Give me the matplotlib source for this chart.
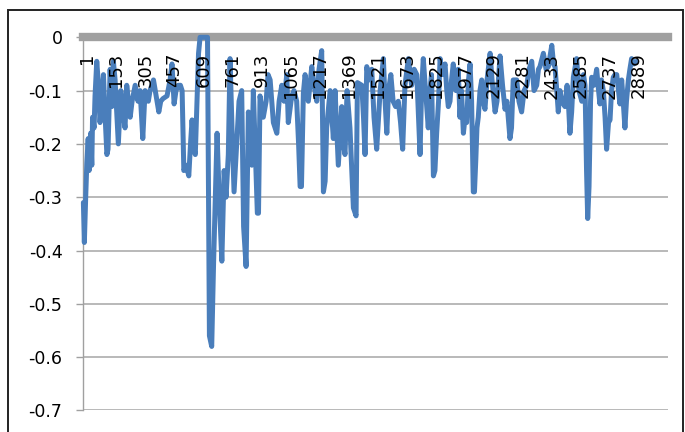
import matplotlib

matplotlib.use("Agg")
import matplotlib.pyplot as plt
import matplotlib.transforms as mtransforms
from matplotlib.patches import Rectangle
import numpy as np

# row number of each reading and the reading itself
obs_index = [
    1, 6, 13, 19, 26, 31, 39, 45, 49, 57, 62, 71, 80, 88, 97, 106, 115, 124, 130, 141,
    150, 158, 167, 184, 197, 209, 219, 228, 246, 256, 272, 287, 298, 312, 324, 341, 350, 368, 382, 396,
    406, 418, 439, 455, 465, 476, 486, 497, 509, 518, 527, 539, 553, 562, 570, 581, 587, 596, 604, 612,
    633, 651, 661, 673, 683, 701, 712, 726, 738, 748, 760, 769, 780, 790, 804, 816, 830, 840, 853, 865,
    874, 883, 891, 900, 912, 918, 926, 943, 958, 968, 979, 996, 1014, 1026, 1040, 1052, 1066, 1074, 1092, 1104,
    1118, 1128, 1136, 1143, 1153, 1162, 1179, 1197, 1209, 1223, 1235, 1249, 1258, 1267, 1275, 1293, 1310, 1319, 1336, 1354,
    1363, 1371, 1382, 1397, 1415, 1429, 1436, 1459, 1468, 1476, 1485, 1497, 1511, 1523, 1537, 1547, 1555, 1572, 1581, 1590,
    1599, 1611, 1623, 1636, 1650, 1662, 1673, 1685, 1703, 1720, 1733, 1747, 1756, 1764, 1772, 1781, 1793, 1807, 1816, 1824,
    1834, 1842, 1851, 1861, 1869, 1882, 1895, 1904, 1912, 1921, 1929, 1938, 1952, 1964, 1973, 1981, 1991, 2000, 2008, 2018,
    2026, 2034, 2043, 2049, 2056, 2062, 2069, 2078, 2087, 2095, 2104, 2115, 2131, 2141, 2157, 2167, 2183, 2196, 2209, 2219,
    2235, 2243, 2252, 2270, 2282, 2296, 2309, 2323, 2335, 2349, 2361, 2375, 2384, 2392, 2410, 2424, 2436, 2445, 2454, 2463,
    2471, 2480, 2488, 2497, 2506, 2523, 2534, 2542, 2549, 2558, 2567, 2584, 2596, 2611, 2620, 2628, 2636, 2642, 2649, 2657,
    2663, 2675, 2689, 2699, 2706, 2714, 2724, 2733, 2741, 2751, 2759, 2767, 2776, 2785, 2794, 2803, 2811, 2820, 2828, 2837,
    2845, 2855, 2863, 2872, 2884, 2899,
]
obs_value = [
    -0.31, -0.385, -0.30, -0.236, -0.19, -0.25, -0.18, -0.24, -0.15, -0.17, -0.11, -0.045, -0.09, -0.16, -0.12, -0.07, -0.15, -0.22, -0.21, -0.06,
    -0.13, -0.045, -0.08, -0.20, -0.10, -0.14, -0.17, -0.09, -0.15, -0.12, -0.09, -0.12, -0.10, -0.19, -0.10, -0.12, -0.10, -0.08, -0.11, -0.14,
    -0.12, -0.115, -0.11, -0.08, -0.05, -0.125, -0.10, -0.09, -0.09, -0.10, -0.25, -0.24, -0.26, -0.20, -0.155, -0.21, -0.22, -0.12, -0.03, 0.0,
    0.0, 0.0, -0.56, -0.58, -0.42, -0.18, -0.30, -0.42, -0.25, -0.30, -0.22, -0.04, -0.18, -0.29, -0.20, -0.12, -0.10, -0.355, -0.43, -0.14,
    -0.20, -0.24, -0.10, -0.20, -0.33, -0.33, -0.11, -0.15, -0.12, -0.07, -0.08, -0.16, -0.18, -0.12, -0.09, -0.12, -0.07, -0.16, -0.11, -0.10,
    -0.12, -0.20, -0.28, -0.28, -0.105, -0.07, -0.12, -0.055, -0.09, -0.12, -0.06, -0.025, -0.29, -0.27, -0.17, -0.10, -0.19, -0.10, -0.24, -0.13,
    -0.20, -0.22, -0.10, -0.17, -0.32, -0.335, -0.085, -0.09, -0.15, -0.22, -0.055, -0.08, -0.06, -0.15, -0.21, -0.15, -0.10, -0.04, -0.12, -0.18,
    -0.10, -0.07, -0.12, -0.13, -0.12, -0.16, -0.21, -0.09, -0.04, -0.09, -0.06, -0.07, -0.15, -0.22, -0.10, -0.04, -0.10, -0.17, -0.10, -0.07,
    -0.26, -0.25, -0.18, -0.12, -0.04, -0.07, -0.05, -0.10, -0.13, -0.12, -0.08, -0.05, -0.10, -0.06, -0.15, -0.10, -0.18, -0.15, -0.16, -0.08,
    -0.05, -0.12, -0.29, -0.29, -0.23, -0.17, -0.15, -0.10, -0.08, -0.12, -0.135, -0.08, -0.03, -0.08, -0.14, -0.12, -0.035, -0.09, -0.135, -0.12,
    -0.19, -0.17, -0.08, -0.08, -0.12, -0.14, -0.10, -0.09, -0.06, -0.045, -0.10, -0.09, -0.06, -0.055, -0.03, -0.06, -0.055, -0.035, -0.015, -0.05,
    -0.055, -0.10, -0.14, -0.10, -0.12, -0.13, -0.09, -0.13, -0.18, -0.14, -0.075, -0.04, -0.10, -0.12, -0.07, -0.09, -0.25, -0.34, -0.28, -0.12,
    -0.075, -0.09, -0.06, -0.10, -0.125, -0.08, -0.10, -0.15, -0.21, -0.16, -0.155, -0.10, -0.075, -0.07, -0.07, -0.10, -0.125, -0.08, -0.12, -0.17,
    -0.12, -0.08, -0.06, -0.04, -0.05, -0.045,
]

n_rows = 3061
label_every = 152
y_ticks = [-0.7, -0.6, -0.5, -0.4, -0.3, -0.2, -0.1, 0.0]

W, H = 685, 432
fig = plt.figure(figsize=(W / 100, H / 100), dpi=100)
ax = fig.add_axes([83.3 / W, 1 - 410.4 / H, (667.7 - 83.3) / W, (410.4 - 37.3) / H])

ax.plot(obs_index, obs_value, color="#4a7ebb", lw=3.6,
        solid_joinstyle="round", solid_capstyle="round", zorder=4, clip_on=False)

ax.set_xlim(0.5, n_rows)
ax.set_ylim(-0.7, 0)

# category axis sits on y=0 as a heavy grey bar; its labels hang below it
xt = np.arange(1, 2890, label_every)
ax.set_xticks(xt)
ax.set_xticklabels([])
ax.tick_params(axis="x", length=0)
shift = mtransforms.ScaledTranslation(4 / 100, -11 / 72, fig.dpi_scale_trans)
lab_tf = ax.get_xaxis_transform() + shift
for v in xt:
    ax.text(v, 1.0, str(v), transform=lab_tf, rotation=90, fontsize=13,
            ha="center", va="top", zorder=5)

ax.set_yticks(y_ticks)
ax.yaxis.set_major_formatter(lambda v, pos: "0" if abs(v) < 1e-9 else f"{v:.1f}")
ax.tick_params(axis="y", length=5, width=1, color="#a0a0a0", pad=10, labelsize=12.5)

ax.grid(axis="y", color="#a6a6a6", lw=1.1)
ax.set_axisbelow(True)

for side in ("top", "right"):
    ax.spines[side].set_visible(False)
ax.spines["left"].set_color("#a0a0a0")
ax.spines["left"].set_linewidth(1)
ax.spines["bottom"].set_position(("data", 0))
ax.spines["bottom"].set_color("#a0a0a0")
ax.spines["bottom"].set_linewidth(6)
ax.spines["bottom"].set_zorder(3)

# chart frame
fig.patches.append(Rectangle((8.3 / W, -0.05), (683 - 8.3) / W, (H - 10) / H + 0.05,
                             transform=fig.transFigure, fill=False,
                             ec="#222222", lw=1.4))

fig.savefig("out.png", dpi=100)
